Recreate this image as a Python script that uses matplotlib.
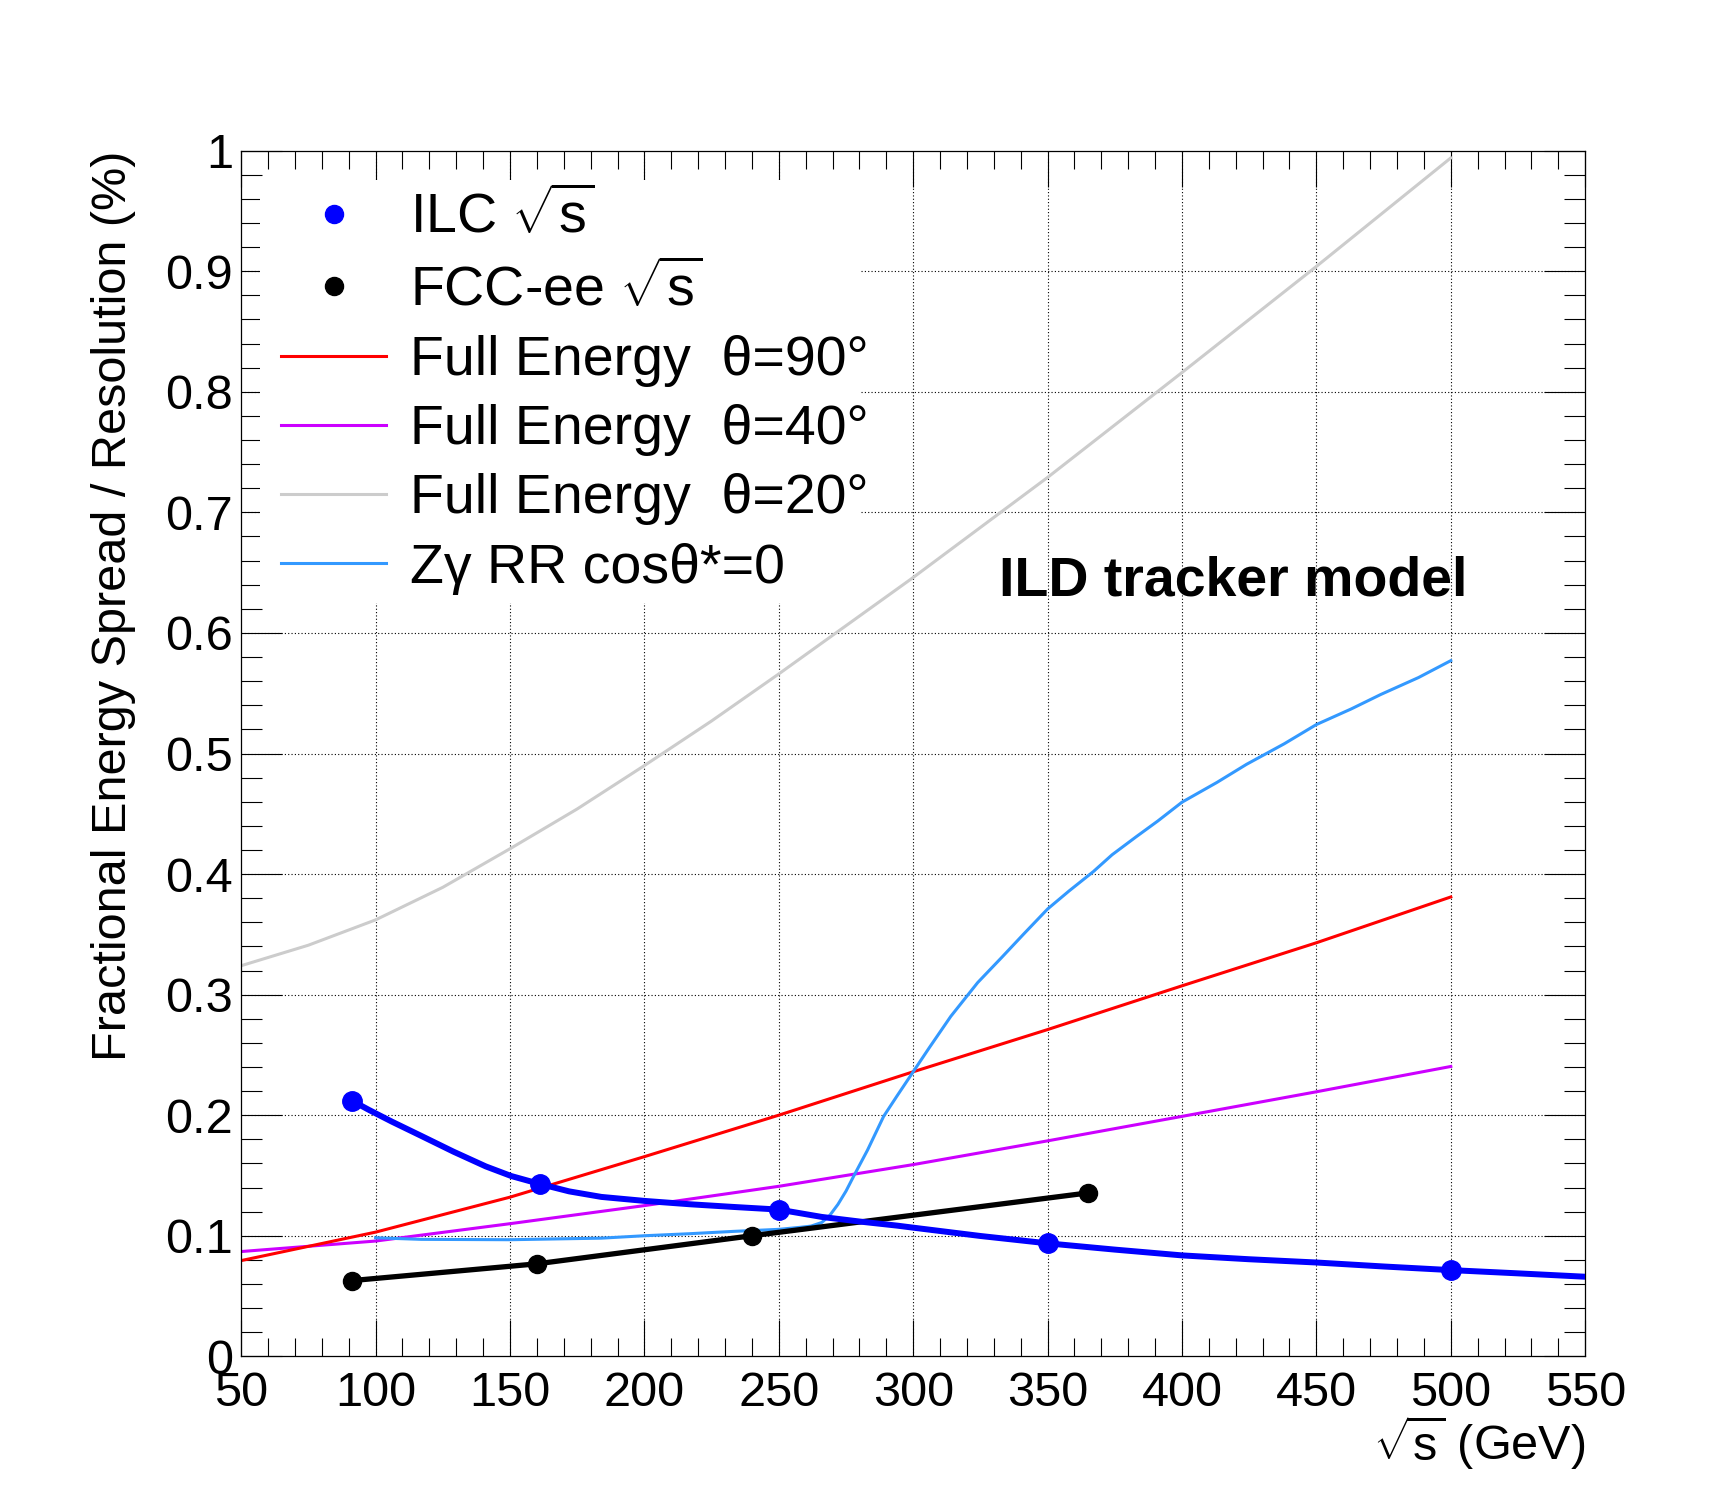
import numpy as np
import matplotlib
matplotlib.use('Agg')
import matplotlib.pyplot as plt
import matplotlib.ticker as mticker
from matplotlib.patches import Rectangle

plt.rcParams['font.family'] = ['Liberation Sans', 'DejaVu Sans']
plt.rcParams['mathtext.fontset'] = 'custom'
plt.rcParams['mathtext.rm'] = 'Liberation Sans'
plt.rcParams['mathtext.it'] = 'Liberation Sans:italic'
plt.rcParams['mathtext.bf'] = 'Liberation Sans:bold'

# ILC beam energy spread points and the smooth curve through them
ilc_E = [91.2, 161, 250, 350, 500]
ilc_spread = [0.212, 0.143, 0.1217, 0.0937, 0.0715]
ilc_curve_E = [91.2, 97.5, 106, 117, 129, 141, 150.5, 161, 172, 184, 200, 217, 233, 250, 266, 280,
               294, 300, 325, 350, 375, 400, 425, 450, 475, 500, 525, 550]
ilc_curve = [0.212, 0.2044, 0.1947, 0.1828, 0.1697, 0.1575, 0.1495, 0.1430, 0.1368, 0.1322, 0.1289,
             0.1261, 0.1239, 0.1217, 0.1156, 0.1118, 0.1084, 0.1067, 0.0998, 0.0937, 0.0885, 0.0837,
             0.0805, 0.0778, 0.0745, 0.0715, 0.0688, 0.066]

# FCC-ee beam energy spread
fcc_E = [91.2, 160, 240, 365]
fcc_spread = [0.0628, 0.0767, 0.100, 0.1355]

# full energy resolution at three polar angles
full_E = [50, 100, 150, 200, 250, 300, 350, 400, 450, 500]
full_90 = [0.0794, 0.103, 0.132, 0.1656, 0.200, 0.236, 0.271, 0.3073, 0.343, 0.381]
full_40 = [0.0869, 0.0956, 0.110, 0.125, 0.141, 0.159, 0.1787, 0.199, 0.2194, 0.2404]
grey_E = [50, 75, 100, 125, 150, 175, 200, 225, 250, 300, 350, 400, 450, 500]
full_20 = [0.324, 0.341, 0.362, 0.389, 0.421, 0.454, 0.490, 0.527, 0.566, 0.646, 0.729, 0.816, 0.904, 0.994]

# Z gamma radiative return, cos(theta*)=0
zg_E = [100, 117, 150, 184, 200, 217, 233, 250, 258, 262, 266, 269, 272, 275, 278, 283, 289, 294,
        300, 306, 314, 324, 333, 341, 350, 358, 367, 374, 383, 391, 400, 413, 424, 438, 450, 463,
        474, 488, 500]
zg_res = [0.0983, 0.097, 0.0967, 0.098, 0.100, 0.1017, 0.1036, 0.1053, 0.107, 0.108, 0.111, 0.117,
          0.126, 0.137, 0.150, 0.171, 0.199, 0.216, 0.236, 0.256, 0.282, 0.310, 0.331, 0.350, 0.371,
          0.386, 0.402, 0.416, 0.431, 0.444, 0.4596, 0.476, 0.491, 0.508, 0.524, 0.537, 0.549, 0.563,
          0.577]

x_major = np.arange(50, 551, 50)
y_major = np.arange(0, 1.01, 0.1)

fig = plt.figure(figsize=(17.23, 15.07), dpi=100)
ax = fig.add_axes([0.14, 0.10, 0.78, 0.80])

# ROOT style dotted grid, drawn by hand so the legend box can hide it
for v in x_major[1:-1]:
    ax.axvline(v, color='black', ls=(0, (1, 2)), lw=0.8, zorder=0.5)
for v in y_major[1:-1]:
    ax.axhline(v, color='black', ls=(0, (1, 2)), lw=0.8, zorder=0.5)

ax.plot(grey_E, full_20, color='#cccccc', lw=2.2, zorder=2)
ax.plot(full_E, full_40, color='#cc00ff', lw=2.2, zorder=2)
ax.plot(full_E, full_90, color='#ff0000', lw=2.2, zorder=2)
ax.plot(zg_E, zg_res, color='#3399ff', lw=2.2, zorder=2)
ax.plot(fcc_E, fcc_spread, color='black', lw=3.8, zorder=3)
ax.plot(fcc_E, fcc_spread, 'o', color='black', ms=13, zorder=3)
ax.plot(ilc_curve_E, ilc_curve, color='#0000ff', lw=4.3, zorder=3)
ax.plot(ilc_E, ilc_spread, 'o', color='#0000ff', ms=14, zorder=3)

ax.set_xlim(50, 550)
ax.set_ylim(0, 1)
ax.set_xticks(x_major)
ax.set_yticks(y_major)
ax.xaxis.set_minor_locator(mticker.MultipleLocator(10))
ax.yaxis.set_minor_locator(mticker.MultipleLocator(0.02))
ax.yaxis.set_major_formatter(mticker.FuncFormatter(lambda v, p: '%g' % round(v, 2)))
ax.tick_params(which='both', direction='in', top=True, right=True, width=0.8, labelsize=35)
ax.tick_params(axis='x', which='major', length=26, pad=10.5)
ax.tick_params(axis='x', which='minor', length=13)
ax.tick_params(axis='y', which='major', length=29.5, pad=6)
ax.tick_params(axis='y', which='minor', length=14.8)
for s in ax.spines.values():
    s.set_linewidth(0.9)

ax.set_xlabel(r'$\sqrt{\mathrm{s}}$ (GeV)', fontsize=35, loc='right')
ax.xaxis.set_label_coords(1.0, -0.047)
ax.set_ylabel('Fractional Energy Spread / Resolution (%)', fontsize=35, loc='top')
ax.yaxis.set_label_coords(-0.078, 1.0)

ax.text(332, 0.631, 'ILD tracker model', fontsize=40, fontweight='bold', va='baseline')

# white legend area like the ROOT TLegend
ax.add_patch(Rectangle((0.014, 0.625), 0.447, 0.3506, transform=ax.transAxes,
                       facecolor='white', edgecolor='none', zorder=2.6))

h_ilc = plt.Line2D([], [], marker='o', ls='none', color='#0000ff', ms=13)
h_fcc = plt.Line2D([], [], marker='o', ls='none', color='black', ms=13)
h_90 = plt.Line2D([], [], color='#ff0000', lw=2.2)
h_40 = plt.Line2D([], [], color='#cc00ff', lw=2.2)
h_20 = plt.Line2D([], [], color='#cccccc', lw=2.2)
h_zg = plt.Line2D([], [], color='#3399ff', lw=2.2)
leg = ax.legend([h_ilc, h_fcc, h_90, h_40, h_20, h_zg],
                [r'ILC $\sqrt{\mathrm{s}}$', r'FCC-ee $\sqrt{\mathrm{s}}$',
                 'Full Energy  θ=90°', 'Full Energy  θ=40°', 'Full Energy  θ=20°',
                 'Zγ RR cosθ*=0'],
                loc='upper left', bbox_to_anchor=(0.0298, 0.9675), frameon=False,
                fontsize=40, borderpad=0, borderaxespad=0, handlelength=1.89,
                handletextpad=0.42, labelspacing=0.31)
leg.set_zorder(5)

fig.savefig('out.png', dpi=100)
